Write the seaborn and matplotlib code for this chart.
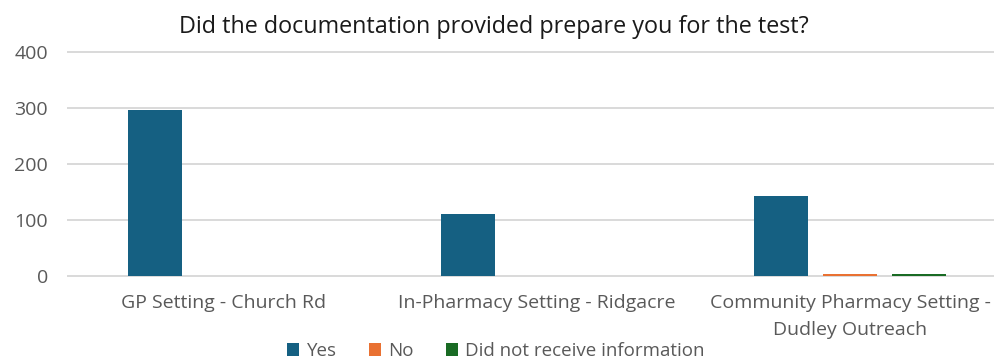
import matplotlib
matplotlib.use("Agg")
import matplotlib.pyplot as plt
from matplotlib.patches import Patch
import pandas as pd
import seaborn as sns

categories = ["GP Setting - Church Rd",
              "In-Pharmacy Setting - Ridgacre",
              "Community Pharmacy Setting -\nDudley Outreach"]
responses = ["Yes", "No", "Did not receive information"]
yes_counts = [296, 110, 143]
no_counts = [0, 0, 3]
not_received_counts = [0, 0, 3]
y_ticks = [0, 100, 200, 300, 400]
title = "Did the documentation provided prepare you for the test?"

colors = {"Yes": "#156082", "No": "#E97132", "Did not receive information": "#196B24"}

rows = []
for series, vals in zip(responses, [yes_counts, no_counts, not_received_counts]):
    for cat, v in zip(categories, vals):
        rows.append({"Setting": cat, "Response": series, "Count": v})
df = pd.DataFrame(rows)

sns.set_theme(style="white")
plt.rcParams["font.family"] = ["Open Sans", "DejaVu Sans"]

fig = plt.figure(figsize=(9.95, 3.62), dpi=100)
ax = fig.add_axes([0.0678, 0.2329, 0.9437, 0.6273])

sns.barplot(data=df, x="Setting", y="Count", hue="Response",
            order=categories, hue_order=responses, palette=colors,
            saturation=1, width=0.66, gap=0.22, legend=False, ax=ax,
            edgecolor="none", linewidth=0)

ax.set_ylim(-3, 403)
ax.set_xlim(-0.5, 2.5)
ax.set_yticks(y_ticks)
ax.yaxis.grid(True, color="#D9D9D9", linewidth=1.4)
ax.set_axisbelow(True)
for s in ax.spines.values():
    s.set_visible(False)
ax.set_xlabel("")
ax.set_ylabel("")
ax.tick_params(axis="both", length=0, labelsize=14, labelcolor="#595959")
ax.tick_params(axis="x", pad=12)
ax.tick_params(axis="y", pad=14)
ax.set_xticks(range(len(categories)))
ax.set_xticklabels(categories, linespacing=1.6)

fig.text(0.496, 0.925, title, ha="center", va="center", fontsize=16.8, color="#1a1a1a")

handles = [Patch(facecolor=colors[r], edgecolor="none") for r in responses]
fig.legend(handles, responses, loc="center", bbox_to_anchor=(0.4985, 0.03), ncol=3,
           frameon=False, fontsize=13.5, handlelength=0.65, handleheight=0.65,
           handletextpad=0.4, columnspacing=1.7, labelcolor="#595959",
           borderpad=0.1)

fig.savefig("out.png", dpi=100)
